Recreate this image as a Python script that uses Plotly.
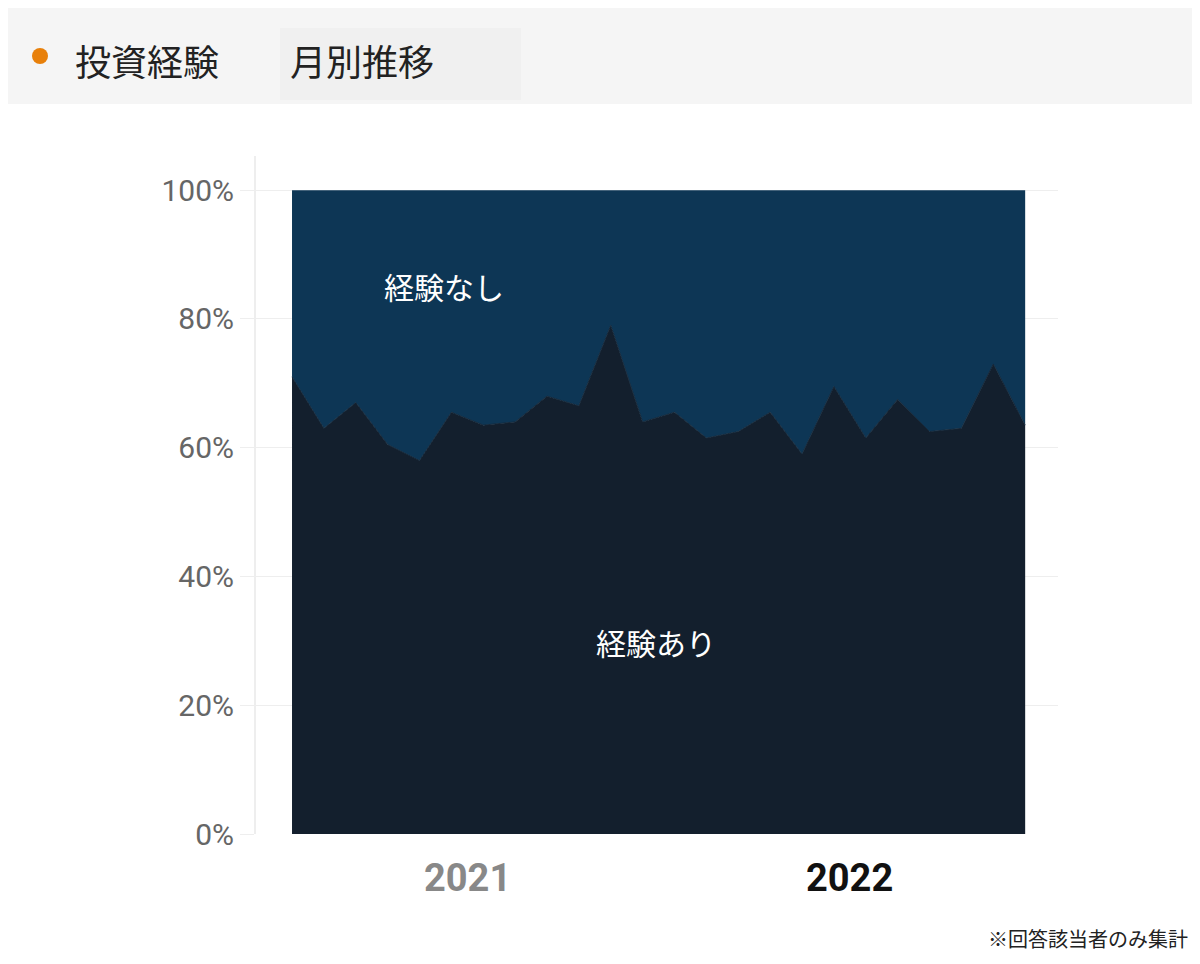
import plotly.graph_objects as go

months = list(range(24))
experienced = [71, 63, 67, 60.5, 58, 65.5, 63.5, 64, 68, 66.5, 79, 64,
               65.5, 61.5, 62.5, 65.5, 59, 69.5, 61.5, 67.5, 62.5, 63, 73, 63.5]
not_experienced = [100 - v for v in experienced]
year_labels = ["2021", "2022"]
year_pos = [5.5, 17.5]

fig = go.Figure()
fig.add_trace(go.Scatter(x=months, y=experienced, mode="lines", stackgroup="a",
                         line=dict(width=1, color="#15283a"), fillcolor="#131f2d"))
fig.add_trace(go.Scatter(x=months, y=not_experienced, mode="lines", stackgroup="a",
                         line=dict(width=0, color="#0d3655"), fillcolor="#0d3655"))

font = "Noto Sans CJK JP"
fig.update_layout(
    width=1200, height=964, showlegend=False,
    plot_bgcolor="white", paper_bgcolor="white",
    margin=dict(l=248, r=150, t=148, b=138),
    font=dict(family=font),
    xaxis=dict(range=[-1.13, 24.03], showticklabels=False, showgrid=False,
               zeroline=False),
    yaxis=dict(range=[0, 105.3], tickvals=[0, 20, 40, 60, 80, 100],
               ticktext=["0%", "20%", "40%", "60%", "80%", "100%"],
               tickfont=dict(size=30, color="#666666", family="Roboto"),
               gridcolor="#eeeeee", zeroline=False, showline=True,
               linecolor="#eeeeee", linewidth=2, ticks="outside",
               ticklen=14, tickcolor="#eeeeee"),
    shapes=[
        dict(type="rect", xref="paper", yref="paper", x0=-0.4, x1=1.2,
             y0=1.0 + 52 / 678, y1=1.0 + 148 / 678, fillcolor="#f5f5f5", line_width=0,
             layer="below"),
        dict(type="circle", xref="paper", yref="paper",
             x0=(24 - 248) / 802, x1=(40 - 248) / 802,
             y0=(826 - 56) / 678, y1=(826 - 40) / 678,
             fillcolor="#e8800a", line_width=0),
        dict(type="rect", xref="paper", yref="paper",
             x0=(272 - 248) / 802, x1=(513 - 248) / 802,
             y0=(826 - 92) / 678, y1=(826 - 20) / 678,
             fillcolor="#f0f0f0", line_width=0),
    ],
)

ann = [
    dict(text="投資経験", x=(65 - 248) / 802, y=(826 - 52) / 678, size=36, color="#222222", anchor="left"),
    dict(text="月別推移", x=(280 - 248) / 802, y=(826 - 52) / 678, size=36, color="#222222", anchor="left"),
    dict(text="経験なし", x=(436 - 248) / 802, y=(826 - 278) / 678, size=30, color="white", anchor="center"),
    dict(text="経験あり", x=(648 - 248) / 802, y=(826 - 634) / 678, size=30, color="white", anchor="center"),
    dict(text="※回答該当者のみ集計", x=(1182 - 248) / 802, y=(826 - 931) / 678, size=20, color="#222222", anchor="right"),
]
for a in ann:
    fig.add_annotation(text=a["text"], xref="paper", yref="paper", x=a["x"], y=a["y"],
                       xanchor=a["anchor"], yanchor="middle", showarrow=False,
                       font=dict(size=a["size"], color=a["color"], family=font))

colors = ["#888888", "#111111"]
for lbl, pos, c in zip(year_labels, year_pos, colors):
    fig.add_annotation(text="<b>" + lbl + "</b>", x=pos, xref="x", yref="paper",
                       y=(826 - 870) / 678, yanchor="middle", showarrow=False,
                       font=dict(size=38, color=c, family="Roboto"))

fig.write_html("out.html")
